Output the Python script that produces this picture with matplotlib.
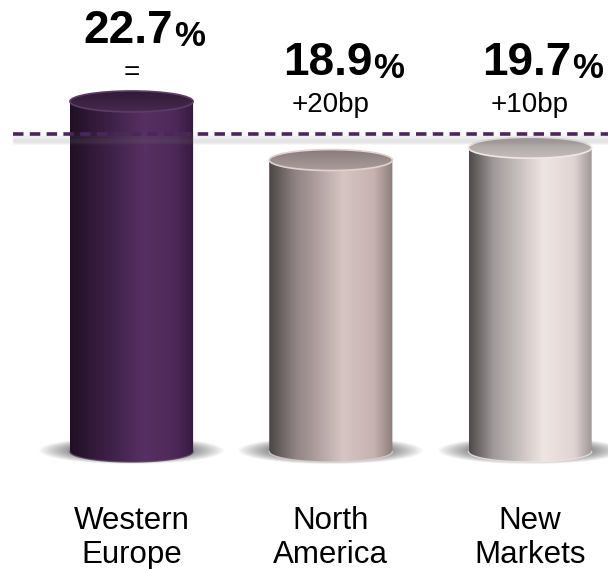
import numpy as np
import matplotlib
matplotlib.use("Agg")
import matplotlib.pyplot as plt
from matplotlib.patches import Ellipse, Polygon
from matplotlib.colors import LinearSegmentedColormap, to_rgb

plt.rcParams["font.family"] = ["Liberation Sans", "DejaVu Sans"]

# chart data
regions = ["Western\nEurope", "North\nAmerica", "New\nMarkets"]
margins = [22.7, 18.9, 19.7]
changes = ["=", "+20bp", "+10bp"]
group_avg = 20.6

# cylinder shading: body gradient stops, top face colours, rim
body_stops = [0.0, 0.2, 0.6, 0.85, 1.0]
body_colors = [
    ["#1f1023", "#341a3b", "#563062", "#4d2858", "#371a40"],
    ["#4c4545", "#8d8080", "#d6c5c3", "#c6b2b0", "#8c7c7c"],
    ["#4e4a4b", "#a19a9a", "#efe5e3", "#e0d4d3", "#9c9292"],
]
top_colors = [("#311a38", "#47294f"), ("#8a7b7c", "#ad9e9e"), ("#a49b9b", "#c4bbba")]
rim_colors = ["#5b3d63", "#e0d2d0", "#efe7e5"]

fig = plt.figure(figsize=(6.08, 5.69), dpi=100)
ax = fig.add_axes([0, 0, 1, 1])
ax.set_xlim(-0.66, 2.391)
ax.set_ylim(-7.62, 29.28)
ax.axis("off")

hw = 0.309   # half width of a cylinder (x units)
eh = 0.68    # half height of the end ellipses (y units)
t = np.linspace(0, np.pi, 60)

for i, v in enumerate(margins):
    xc = i

    # soft shadow on the floor
    sx = np.linspace(-1, 1, 200)
    sy = np.linspace(-1, 1, 60)
    gx, gy = np.meshgrid(sx, sy)
    r = np.sqrt(gx ** 2 + (gy * 1.05) ** 2)
    alpha = np.clip((1 - r) / 0.45, 0, 1) ** 0.9 * 0.85
    shadow = np.zeros((60, 200, 4))
    shadow[..., :3] = 0.38
    shadow[..., 3] = alpha
    ax.imshow(shadow, extent=(xc - hw - 0.16, xc + hw + 0.16, -0.9, 0.95),
              aspect="auto", zorder=1, interpolation="bilinear")

    # body with horizontal gradient
    cmap = LinearSegmentedColormap.from_list(
        "body%d" % i, list(zip(body_stops, body_colors[i])))
    bx = np.concatenate([[xc - hw, xc + hw],
                         xc + hw * np.cos(t)])
    by = np.concatenate([[v, v], -eh * np.sin(t)])
    body = Polygon(np.column_stack([bx, by]), closed=True,
                   facecolor="none", edgecolor="none")
    ax.add_patch(body)
    grad = np.linspace(0, 1, 256).reshape(1, -1)
    im = ax.imshow(grad, cmap=cmap, extent=(xc - hw, xc + hw, -eh, v),
                   aspect="auto", zorder=2, interpolation="bilinear")
    im.set_clip_path(body)
    ax.plot(xc + hw * np.cos(t), -eh * np.sin(t), color=rim_colors[i],
            lw=1.0, zorder=3, alpha=0.8)

    # top face
    c0, c1 = to_rgb(top_colors[i][0]), to_rgb(top_colors[i][1])
    tg = np.linspace(0, 1, 64)[:, None, None]
    top_img = (np.array(c0) * (1 - tg) + np.array(c1) * tg) * np.ones((1, 4, 1))
    top = Ellipse((xc, v), 2 * hw, 2 * eh, facecolor="none",
                  edgecolor=rim_colors[i], lw=1.2, zorder=5)
    ax.add_patch(top)
    tim = ax.imshow(top_img, extent=(xc - hw, xc + hw, v - eh, v + eh),
                    origin="upper", aspect="auto", zorder=4,
                    interpolation="bilinear")
    tim.set_clip_path(top)

# group average line with a soft shadow
for off, lw, a in [(0.3, 9, 0.05), (0.4, 6, 0.07), (0.45, 3, 0.08)]:
    ax.axhline(group_avg - off, xmin=0.021, xmax=1, color="#777777",
               lw=lw, alpha=a, zorder=6, solid_capstyle="butt")
ax.axhline(group_avg, xmin=0.021, xmax=1, color="#4a2758", lw=2.6,
           ls=(0, (2.9, 1.75)), zorder=7)

# value labels
for i, v in enumerate(margins):
    base = max(v, group_avg)
    num = ax.text(i - 0.015, base + 3.8, "%.1f" % v, ha="center",
                  va="baseline", fontsize=33, fontweight="bold", zorder=8)
    ax.annotate("%", xy=(1, 0), xycoords=num, xytext=(0.5, 0),
                textcoords="offset points", ha="left", va="bottom",
                fontsize=25, fontweight="bold", zorder=8)
    ax.text(i, base + 1.4, changes[i], ha="center", va="baseline",
            fontsize=20, zorder=8)

# category labels
for i, name in enumerate(regions):
    for j, line in enumerate(name.split("\n")):
        ax.text(i, -5.03 - 2.2 * j, line, ha="center", va="baseline",
                fontsize=22.5)

fig.savefig("out.png", dpi=100)
